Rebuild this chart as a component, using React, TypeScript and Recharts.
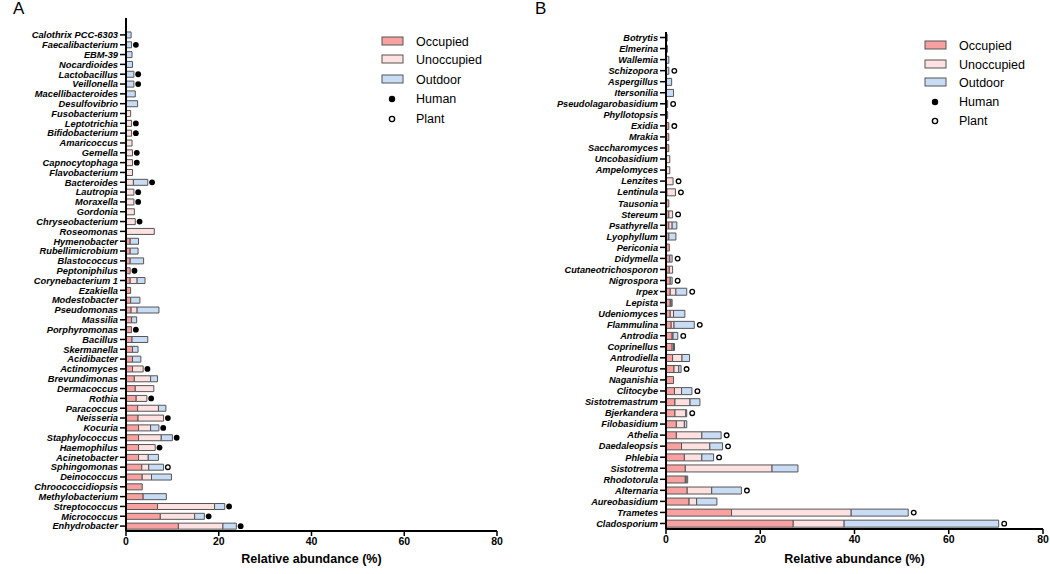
import React from 'react';
import { BarChart, Bar, XAxis, YAxis, LabelList } from 'recharts';

const FONT = '"Liberation Sans", Arial, Helvetica, sans-serif';
const OCC = '#F9A1A1';
const UNOCC = '#FFE1E1';
const OUT = '#C9DCF6';
const EDGE = '#555555';

// Panel A: bacteria
const genusA = [
  'Calothrix PCC-6303', 'Faecalibacterium', 'EBM-39', 'Nocardioides', 'Lactobacillus', 'Veillonella',
  'Macellibacteroides', 'Desulfovibrio', 'Fusobacterium', 'Leptotrichia', 'Bifidobacterium', 'Amaricoccus',
  'Gemella', 'Capnocytophaga', 'Flavobacterium', 'Bacteroides', 'Lautropia', 'Moraxella', 'Gordonia',
  'Chryseobacterium', 'Roseomonas', 'Hymenobacter', 'Rubellimicrobium', 'Blastococcus', 'Peptoniphilus',
  'Corynebacterium 1', 'Ezakiella', 'Modestobacter', 'Pseudomonas', 'Massilia', 'Porphyromonas', 'Bacillus',
  'Skermanella', 'Acidibacter', 'Actinomyces', 'Brevundimonas', 'Dermacoccus', 'Rothia', 'Paracoccus',
  'Neisseria', 'Kocuria', 'Staphylococcus', 'Haemophilus', 'Acinetobacter', 'Sphingomonas', 'Deinococcus',
  'Chroococcidiopsis', 'Methylobacterium', 'Streptococcus', 'Micrococcus', 'Enhydrobacter',
];
const occupiedA = [
  0, 0, 0, 0, 0, 0, 0, 0, 0, 0, 0, 0, 0, 0, 0, 0, 0, 0, 0, 0, 0,
  0.9, 0.9, 0.9, 0.9, 0.9, 1.0, 1.0, 1.1, 1.2, 1.2, 1.3, 1.4, 1.4, 1.4, 1.8, 2.0, 2.2, 2.5,
  2.6, 2.7, 2.7, 2.7, 2.7, 3.4, 3.5, 3.5, 3.7, 6.8, 7.4, 11.3,
];
const unoccupiedA = [
  0, 0, 0, 0, 0, 0, 0, 0, 1.0, 1.2, 1.2, 1.3, 1.4, 1.4, 1.4, 1.6, 1.7, 1.7, 1.8, 2.0, 6.1,
  0, 0, 0, 0, 1.5, 0, 0, 1.3, 0, 0, 0, 0, 0, 2.3, 3.5, 4.0, 2.3, 4.5,
  5.5, 2.6, 4.9, 3.6, 2.1, 1.5, 2.0, 0, 0, 12.3, 7.4, 9.6,
];
const outdoorA = [
  1.1, 1.2, 1.3, 1.4, 1.7, 1.7, 2.0, 2.5, 0, 0, 0, 0, 0, 0, 0, 3.1, 0, 0, 0, 0, 0,
  1.8, 1.7, 2.9, 0, 1.7, 0, 2.0, 4.7, 1.1, 0, 3.4, 1.2, 1.8, 0, 1.5, 0, 0, 1.6,
  0, 1.8, 2.4, 0, 2.2, 3.2, 4.3, 0, 5.0, 2.2, 2.1, 2.9,
];
const sourceA = [
  '', 'human', '', '', 'human', 'human', '', '', '', 'human', 'human', '', 'human', 'human', '', 'human',
  'human', 'human', '', 'human', '', '', '', '', 'human', '', '', '', '', '', 'human', '', '', '', 'human',
  '', '', 'human', '', 'human', 'human', 'human', 'human', '', 'plant', '', '', '', 'human', 'human', 'human',
];

// Panel B: fungi
const genusB = [
  'Botrytis', 'Elmerina', 'Wallemia', 'Schizopora', 'Aspergillus', 'Itersonilia', 'Pseudolagarobasidium',
  'Phyllotopsis', 'Exidia', 'Mrakia', 'Saccharomyces', 'Uncobasidium', 'Ampelomyces', 'Lenzites', 'Lentinula',
  'Tausonia', 'Stereum', 'Psathyrella', 'Lyophyllum', 'Periconia', 'Didymella', 'Cutaneotrichosporon',
  'Nigrospora', 'Irpex', 'Lepista', 'Udeniomyces', 'Flammulina', 'Antrodia', 'Coprinellus', 'Antrodiella',
  'Pleurotus', 'Naganishia', 'Clitocybe', 'Sistotremastrum', 'Bjerkandera', 'Filobasidium', 'Athelia',
  'Daedaleopsis', 'Phlebia', 'Sistotrema', 'Rhodotorula', 'Alternaria', 'Aureobasidium', 'Trametes',
  'Cladosporium',
];
const occupiedB = [
  0.25, 0.3, 0, 0, 0, 0, 0.35, 0.35, 0.6, 0.6, 0.6, 0, 0, 0, 0.2, 0.6, 0.6, 0.6, 0.6, 0.7, 0.8, 0.7,
  0.9, 0.9, 0.9, 0.9, 1.1, 1.3, 1.3, 1.4, 1.7, 1.6, 1.8, 1.9, 1.9, 2.2, 2.2, 3.3, 3.9, 4.1, 4.1, 4.5,
  4.9, 13.9, 27.0,
];
const unoccupiedB = [
  0, 0, 0, 0, 0, 0, 0, 0, 0, 0, 0, 0.8, 0.8, 1.5, 1.8, 0, 0.8, 0.7, 0, 0, 0, 0.7,
  0, 1.2, 0.2, 0.7, 0.6, 0.2, 0.3, 2.0, 1.0, 0, 1.5, 3.2, 2.3, 1.7, 5.4, 6.0, 3.7, 18.4, 0.2, 5.2,
  1.6, 25.4, 10.8,
];
const outdoorB = [
  0, 0, 0.6, 0.6, 1.2, 1.6, 0, 0, 0, 0, 0, 0, 0, 0, 0, 0, 0, 1.0, 1.5, 0, 0.5, 0,
  0.4, 2.3, 0.2, 2.4, 4.3, 1.0, 0.2, 1.6, 0.5, 0, 2.2, 2.1, 0.2, 0.5, 4.1, 2.7, 2.5, 5.5, 0.3, 6.3,
  4.3, 12.1, 32.8,
];
const sourceB = [
  '', '', '', 'plant', '', '', 'plant', '', 'plant', '', '', '', '', 'plant', 'plant', '', 'plant', '', '',
  '', 'plant', '', 'plant', 'plant', '', '', 'plant', 'plant', '', '', 'plant', '', 'plant', '', 'plant',
  '', 'plant', 'plant', 'plant', '', '', 'plant', '', 'plant', 'plant',
];

const xTicks = [0, 20, 40, 60, 80];
const segments = ['occupied', 'unoccupied', 'outdoor'];

type Row = { genus: string; occupied: number; unoccupied: number; outdoor: number; source: string };

function buildRows(genus: string[], occ: number[], unocc: number[], out: number[], src: string[]): Row[] {
  return genus.map((g, i) => ({
    genus: g,
    occupied: occ[i],
    unoccupied: unocc[i],
    outdoor: out[i],
    source: src[i],
  }));
}

const rowsA = buildRows(genusA, occupiedA, unoccupiedA, outdoorA, sourceA);
const rowsB = buildRows(genusB, occupiedB, unoccupiedB, outdoorB, sourceB);

// the dot sits just past the last non-empty segment of each stack
function lastSegment(r: Row) {
  let last = '';
  segments.forEach((k) => {
    if ((r as any)[k] > 0) last = k;
  });
  return last;
}

function makeMarker(rows: Row[], seg: string, gap: number) {
  return (props: any) => {
    const vb = props.viewBox || props;
    const { x, y, width, height } = vb;
    const row = rows.find((r) => r.genus === props.value);
    if (!row || !row.source || lastSegment(row) !== seg || x == null) return null;
    const cx = Number(x) + Number(width) + gap;
    const cy = Number(y) + Number(height) / 2;
    if (row.source === 'human') return <circle key={row.genus} cx={cx} cy={cy} r={2.9} fill="#000" />;
    return <circle key={row.genus} cx={cx} cy={cy} r={2.3} fill="#fff" stroke="#000" strokeWidth={1.3} />;
  };
}

function makeTick(size: number) {
  return (props: any) => {
    const { x, y, payload } = props;
    return (
      <text
        x={x}
        y={y}
        dy={size * 0.36}
        textAnchor="end"
        fontSize={size}
        fontWeight={700}
        fontStyle="italic"
        fontFamily={FONT}
        fill="#000"
      >
        {payload.value}
      </text>
    );
  };
}

type PanelProps = {
  rows: Row[];
  width: number;
  height: number;
  axisWidth: number;
  margin: { top: number; right: number; bottom: number; left: number };
  padTop: number;
  xHeight: number;
  tickSize: number;
  gap: number;
};

function Panel({ rows, width, height, axisWidth, margin, padTop, xHeight, tickSize, gap }: PanelProps) {
  const fills = [OCC, UNOCC, OUT];
  return (
    <BarChart
      layout="vertical"
      width={width}
      height={height}
      data={rows}
      margin={margin}
      barCategoryGap="20%"
      style={{ fontFamily: FONT }}
    >
      <XAxis
        type="number"
        domain={[0, 80]}
        ticks={xTicks}
        allowDataOverflow
        height={xHeight}
        tick={{ fontSize: 10.5, fontWeight: 700, fill: '#000', fontFamily: FONT }}
        tickSize={5}
        tickLine={{ stroke: '#000', strokeWidth: 1.5 }}
        axisLine={{ stroke: '#000', strokeWidth: 2 }}
        label={{
          value: 'Relative abundance (%)',
          position: 'insideBottom',
          offset: 11,
          fontSize: 12.5,
          fontWeight: 700,
          fill: '#000',
          fontFamily: FONT,
        }}
      />
      <YAxis
        type="category"
        dataKey="genus"
        width={axisWidth}
        interval={0}
        padding={{ top: padTop, bottom: 0 }}
        tick={makeTick(tickSize)}
        tickSize={6}
        tickLine={{ stroke: '#000', strokeWidth: 1.5 }}
        axisLine={{ stroke: '#000', strokeWidth: 2 }}
      />
      {segments.map((seg, i) => (
        <Bar
          key={seg}
          dataKey={seg}
          stackId="s"
          fill={fills[i]}
          stroke={EDGE}
          strokeWidth={1}
          isAnimationActive={false}
        >
          <LabelList dataKey="genus" content={makeMarker(rows, seg, gap)} />
        </Bar>
      ))}
    </BarChart>
  );
}

function Key({ left, top, rowGap }: { left: number; top: number; rowGap: number[] }) {
  const items = [
    { name: 'Occupied', kind: 'box', fill: OCC },
    { name: 'Unoccupied', kind: 'box', fill: UNOCC },
    { name: 'Outdoor', kind: 'box', fill: OUT },
    { name: 'Human', kind: 'human' },
    { name: 'Plant', kind: 'plant' },
  ];
  return (
    <svg width={130} height={110} style={{ position: 'absolute', left, top }}>
      {items.map((it, i) => {
        const y = rowGap[i];
        return (
          <g key={it.name}>
            {it.kind === 'box' && (
              <rect x={1} y={y - 4} width={21} height={8} fill={it.fill} stroke={EDGE} strokeWidth={1} />
            )}
            {it.kind === 'human' && <circle cx={11} cy={y + 1} r={3.2} fill="#000" />}
            {it.kind === 'plant' && <circle cx={11} cy={y + 1} r={2.6} fill="#fff" stroke="#000" strokeWidth={1.4} />}
            <text x={35} y={y + 4.5} fontSize={12.5} fontFamily={FONT} fill="#000">
              {it.name}
            </text>
          </g>
        );
      })}
    </svg>
  );
}

export default function App() {
  return (
    <div style={{ position: 'absolute', left: 0, top: 0, width: 1050, height: 574, background: '#fff', fontFamily: FONT }}>
      <div style={{ position: 'absolute', left: 0, top: 0 }}>
        <Panel
          rows={rowsA}
          width={520}
          height={574}
          axisWidth={126}
          margin={{ top: 18, right: 23, bottom: 0, left: 0 }}
          padTop={12}
          xHeight={43}
          tickSize={9.3}
          gap={4.3}
        />
      </div>
      <div style={{ position: 'absolute', left: 525, top: 0 }}>
        <Panel
          rows={rowsB}
          width={525}
          height={574}
          axisWidth={141}
          margin={{ top: 32, right: 7, bottom: 0, left: 0 }}
          padTop={0}
          xHeight={45}
          tickSize={9.2}
          gap={5.5}
        />
      </div>
      <Key left={381} top={20} rowGap={[21, 39, 59, 78, 98]} />
      <Key left={924} top={25} rowGap={[20, 39, 57, 76, 95]} />
      <div style={{ position: 'absolute', left: 13, top: -1, fontSize: 17, fontFamily: FONT }}>A</div>
      <div style={{ position: 'absolute', left: 535, top: -1, fontSize: 17, fontFamily: FONT }}>B</div>
    </div>
  );
}
